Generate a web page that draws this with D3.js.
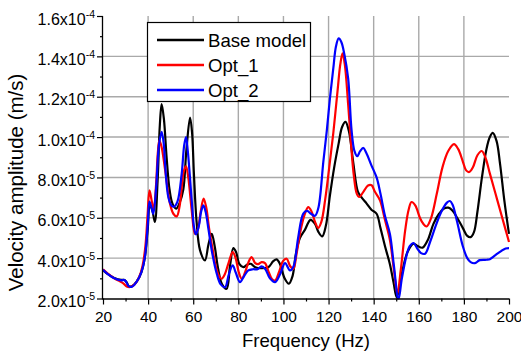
<!DOCTYPE html>
<html><head><meta charset="utf-8">
<script src="https://cdn.jsdelivr.net/npm/d3@7"></script>
<style>body{margin:0;background:#fff;} svg{display:block;}</style>
</head><body>
<svg id="c" width="521" height="353"></svg>
<script>
// ---- Data (values in units of 1e-5 m/s) ----
const seriesNames = ["Base model", "Opt_1", "Opt_2"];
const seriesColors = ["#000000", "#ff0000", "#0000ff"];

const baseFreq = [20,22,25,28,29.5,30.5,31.5,33,35,37,38.5,39.8,40.8,41.8,43,44.2,45.2,46,47,48.2,49.5,50.8,52.4,54,55.6,57,58.6,59.5,60.3,61.5,63,65.2,66.8,68.2,69.5,71,72.8,74.8,76.3,77.8,79,80.5,82.2,84,85.5,87.5,90,93.3,95.5,97,98.5,100.5,102.4,104,105.5,107.3,109.5,112,114,115.5,117.2,118.8,120.6,122.5,124.5,126,127.5,129,131,133,134.7,136.9,139,141.3,143,145,147.2,148.8,150.2,151.5,153,155,157.6,159.5,161.7,164,166.5,169,171,173.1,175,177,179.5,181.5,183,184.5,186,188,190,191.5,192.8,194.5,196,198,200];
const baseVal = [3.40,3.22,3.02,2.92,2.92,2.80,2.60,2.62,2.85,3.30,4.0,5.4,6.6,6.4,5.8,7.8,10.6,11.63,10.9,9.0,7.4,6.7,6.45,6.75,7.4,9.4,10.97,10.2,8.2,5.8,4.4,3.89,4.7,5.2,4.6,3.5,2.7,2.48,3.6,4.5,4.3,3.7,3.55,3.68,3.72,3.55,3.50,3.55,3.85,3.94,3.7,3.0,2.73,3.1,4.2,5.0,5.4,5.9,5.7,5.3,5.08,5.6,7.1,8.5,9.7,10.5,10.75,10.3,8.7,7.3,7.0,6.7,6.4,6.2,5.5,4.6,3.7,2.8,2.06,2.6,3.5,4.3,4.72,4.6,4.52,4.9,5.7,6.2,6.45,6.5,6.35,6.0,5.5,5.1,5.04,5.3,6.3,8.0,9.4,10.0,10.21,9.8,8.7,6.8,5.2];

const opt1Freq = [20,22,25,27.5,29,30.5,32,34,36,37.5,38.8,39.8,40.6,41.5,42.5,43.5,44.3,45,46,47.5,49.7,51.2,52.7,54,54.9,55.8,56.8,57.8,59.3,60.8,62,63.3,64.6,65.8,67,68.5,70,71.5,72.6,74,75.5,77.5,78.8,80.2,81.5,83,84.5,85.9,87.5,88.8,90.3,91.8,93.5,95,96.3,98,99.8,101.4,103,104.4,105.8,107.3,109.2,111,112.5,114,115.4,116.8,118.5,120.2,122.1,124,125.2,126.2,127.2,128.7,130,131.2,132.5,133.6,135.5,137.5,139.1,140.5,142.8,145,147.2,149,150.5,152,154,155.5,156.8,158.5,160.5,162,163.5,165.5,168,170.5,173,175.6,177.5,179.5,181,182.4,184,186,187.9,189.5,191.5,194,196.5,198.5,200];
const opt1Val = [3.45,3.25,3.0,2.85,2.75,2.6,2.57,2.7,3.05,3.6,4.6,6.2,7.36,6.9,6.4,7.6,9.2,9.84,9.5,8.4,6.7,6.2,6.07,6.6,7.5,8.3,8.55,8.0,6.4,5.2,5.4,6.3,6.95,6.5,5.5,4.5,3.6,3.1,2.98,3.2,3.7,4.3,4.0,3.3,2.98,3.3,3.8,4.05,3.75,3.7,3.8,3.75,3.3,2.95,2.89,3.3,3.85,3.97,3.6,3.47,4.2,5.2,6.1,6.53,6.3,5.8,5.5,5.8,6.9,8.4,10.2,12.3,13.6,14.15,13.6,11.6,9.6,8.1,7.2,7.03,7.3,7.6,7.61,7.3,6.87,5.9,4.9,3.4,2.23,3.4,5.4,6.4,6.78,6.6,6.0,5.7,5.57,6.0,7.2,8.5,9.3,9.65,9.4,8.8,8.35,8.27,8.5,9.1,9.31,9.0,8.2,7.2,6.2,5.4,4.8];

const opt2Freq = [20,22,25,28,29.5,30.5,31.5,33,35,37,38.5,39.8,40.6,41.5,42.3,43.5,44.8,46,47,47.5,49,50.4,51.5,53,54.9,56,56.8,57.6,59.3,60.4,61.2,62.5,63.5,64.5,65.5,66.8,68.5,70.5,72.2,74.1,75.8,77.5,78.8,80.7,82.5,84.4,86.5,88.5,90.3,92,94,96.3,98.5,100.7,102.9,104.5,106.5,108.8,110.5,112.2,114,115.5,117.7,119.2,120.6,122.1,123.3,124.5,125.7,127,128.7,130.2,131.5,132.7,134,135.4,136.8,139,141.3,143,145,147.2,149,151,152.5,154.5,156,157.6,159.5,161,162.8,165,167.5,170,172.5,173.8,175,177,179.5,181.5,183,184.9,187,190.1,191.5,194,196.5,198.5,200];
const opt2Val = [3.42,3.22,3.0,2.9,2.92,2.78,2.6,2.6,2.85,3.3,4.0,5.6,6.8,6.5,6.2,7.4,9.6,10.26,9.6,8.7,7.0,6.6,6.55,6.8,8.2,9.6,10.0,9.3,6.9,5.5,5.18,5.6,6.3,6.62,6.3,5.4,4.2,3.2,2.7,2.56,3.2,3.64,3.3,2.81,3.1,3.39,3.45,3.45,3.59,3.45,3.0,2.81,3.2,3.75,3.39,3.6,5.0,6.21,6.34,6.2,6.1,6.5,8.8,10.3,11.9,13.4,14.5,14.89,14.7,14.1,12.9,10.34,9.3,9.05,9.3,9.46,9.2,8.6,8.0,7.2,6.1,5.2,3.6,1.95,3.0,4.1,4.6,4.75,4.45,4.25,4.22,4.8,5.6,6.3,6.75,6.83,6.65,5.8,4.6,4.0,3.8,3.75,3.9,3.92,3.95,4.15,4.35,4.48,4.5];

const xTicks = [20,40,60,80,100,120,140,160,180,200];
const yTicks = [2,4,6,8,10,12,14,16];
const yTickLabels = [["2.0x10","-5"],["4.0x10","-5"],["6.0x10","-5"],["8.0x10","-5"],["1.0x10","-4"],["1.2x10","-4"],["1.4x10","-4"],["1.6x10","-4"]];

// ---- Layout ----
const L = 103, R = 509, T = 16, B = 298.5;
const svg = d3.select("#c");
const font = "'Liberation Sans', Arial, sans-serif";
svg.style("font-family", font);
const x = d3.scaleLinear().domain([20,200]).range([L,R]);
const y = d3.scaleLinear().domain([2,16]).range([B,T]);

// grid
const grid = svg.append("g").attr("stroke","#a9a9a9").attr("stroke-width",1.4);
xTicks.slice(1,-1).forEach(t => grid.append("line").attr("x1",x(t)).attr("x2",x(t)).attr("y1",T).attr("y2",B));
yTicks.slice(1,-1).forEach(t => grid.append("line").attr("x1",L).attr("x2",R).attr("y1",y(t)).attr("y2",y(t)));

// lines
svg.append("clipPath").attr("id","clip").append("rect").attr("x",L).attr("y",T-5).attr("width",R-L+1).attr("height",B-T+6);
const line = d3.line().x(d=>x(d[0])).y(d=>y(d[1])).curve(d3.curveCatmullRom.alpha(0.5));
const data = [d3.zip(baseFreq,baseVal), d3.zip(opt1Freq,opt1Val), d3.zip(opt2Freq,opt2Val)];
const lg = svg.append("g").attr("clip-path","url(#clip)");
data.forEach((d,i)=> lg.append("path").attr("d",line(d)).attr("fill","none")
  .attr("stroke",seriesColors[i]).attr("stroke-width",2.2).attr("stroke-linejoin","round"));

// axes
const xAxis = d3.axisBottom(x).tickValues(xTicks).tickSize(6).tickFormat(d3.format("d"));
const gx = svg.append("g").attr("transform",`translate(0,${B})`).call(xAxis);
gx.attr("font-family",null).attr("font-size",null);
gx.select(".domain").attr("stroke","#000").attr("stroke-width",1.3).attr("d",`M${L},0.5H${R}`);
gx.selectAll(".tick line").attr("stroke","#000").attr("stroke-width",1.2);
gx.selectAll(".tick text").style("font-size","15.5px").attr("fill","#000").attr("dy",null).attr("y",23);
const gxm = svg.append("g").attr("transform",`translate(0,${B})`)
  .call(d3.axisBottom(x).tickValues(d3.range(30,200,20)).tickSize(3).tickFormat(""));
gxm.select(".domain").remove();
gxm.selectAll(".tick line").attr("stroke","#000").attr("stroke-width",1.2);

const yAxis = d3.axisLeft(y).tickValues(yTicks).tickSize(6).tickFormat("");
const gy = svg.append("g").attr("transform",`translate(${L},0)`).call(yAxis);
gy.select(".domain").attr("stroke","#000").attr("stroke-width",1.3).attr("d",`M-0.5,${T}V${B+1}`);
gy.selectAll(".tick line").attr("stroke","#000").attr("stroke-width",1.2);
const gym = svg.append("g").attr("transform",`translate(${L},0)`)
  .call(d3.axisLeft(y).tickValues(d3.range(3,16,2)).tickSize(3).tickFormat(""));
gym.select(".domain").remove();
gym.selectAll(".tick line").attr("stroke","#000").attr("stroke-width",1.2);

yTicks.forEach((t,i)=>{
  const tx = svg.append("text").attr("x",L-8).attr("y",y(t)+8.5).attr("text-anchor","end")
    .style("font-size","16px").attr("fill","#000");
  tx.append("tspan").text(yTickLabels[i][0]);
  tx.append("tspan").attr("dy",-7).style("font-size","10.5px").text(yTickLabels[i][1]);
});

// titles
svg.append("text").attr("x",(L+R)/2).attr("y",347).attr("text-anchor","middle")
  .style("font-size","18.6px").attr("fill","#000").text("Frequency (Hz)");
svg.append("text").attr("transform","translate(23,182.5) rotate(-90)").attr("text-anchor","middle")
  .style("font-size","20.5px").attr("fill","#000").text("Velocity amplitude (m/s)");

// legend
const leg = svg.append("g");
leg.append("rect").attr("x",147.5).attr("y",22.5).attr("width",163).attr("height",79)
  .attr("fill","#fff").attr("stroke","#000").attr("stroke-width",1.2);
seriesNames.forEach((n,i)=>{
  const ly = 40 + i*25;
  leg.append("line").attr("x1",157).attr("x2",204).attr("y1",ly).attr("y2",ly)
    .attr("stroke",seriesColors[i]).attr("stroke-width",2.4);
  leg.append("text").attr("x",208).attr("y",ly+7).style("font-size","18.6px")
    .attr("fill","#000").text(n);
});
</script>
</body></html>
